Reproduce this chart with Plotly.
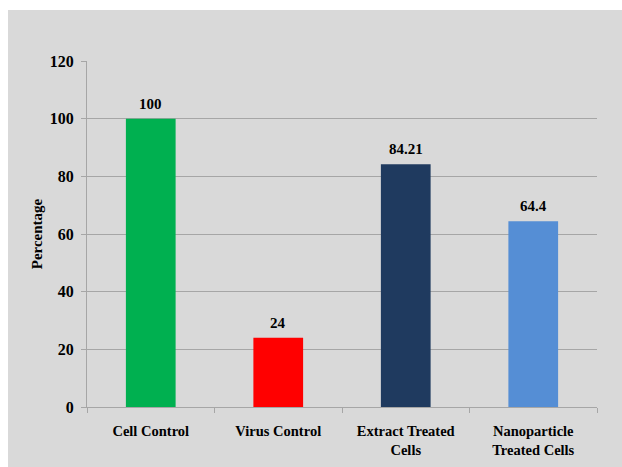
import plotly.graph_objects as go

categories = ["Cell Control", "Virus Control", "Extract Treated<br>Cells", "Nanoparticle<br>Treated Cells"]
values = [100, 24, 84.21, 64.4]
labels = ["100", "24", "84.21", "64.4"]
colors = ["#00b050", "#ff0000", "#1f3a5f", "#558ed5"]
y_ticks = [0, 20, 40, 60, 80, 100, 120]

W, H = 622, 467
L, R, T, B = 87, 25, 61, 60
pw, ph = W - L - R, H - T - B

font_family = "Liberation Serif"

fig = go.Figure(go.Bar(
    x=categories, y=values, marker_color=colors, marker_line_width=0,
    width=0.39,
))

for c, v, t in zip(categories, values, labels):
    fig.add_annotation(x=c, y=v, text="<b>" + t + "</b>", showarrow=False,
                       yanchor="bottom", yshift=5,
                       font=dict(family=font_family, size=15, color="black"))

fig.add_shape(type="rect", xref="paper", yref="paper",
              x0=(8 - L) / pw, x1=(W - L) / pw,
              y0=(ph + T - H) / ph, y1=(ph + T - 10) / ph,
              fillcolor="#d9d9d9", line_width=0, layer="below")

fig.update_layout(
    width=W, height=H,
    margin=dict(l=L, r=R, t=T, b=B, autoexpand=False),
    paper_bgcolor="white", plot_bgcolor="rgba(0,0,0,0)",
    font=dict(family=font_family, color="black"),
    showlegend=False,
)
fig.update_yaxes(
    range=[0, 120], tickvals=y_ticks, showgrid=True, gridcolor="#a6a6a6", gridwidth=1,
    showline=True, linecolor="#a6a6a6", linewidth=1, ticks="outside", ticklen=5, tickcolor="#a6a6a6",
    tickfont=dict(size=16, family=font_family, color="black", weight="bold"), zeroline=False,
    title=dict(text="<b>Percentage</b>", font=dict(size=15, family=font_family), standoff=3),
    ticklabelstandoff=4, automargin=False,
)
fig.update_xaxes(
    showline=True, linecolor="#a6a6a6", linewidth=1, ticks="outside", ticklen=5, tickcolor="#a6a6a6",
    tickson="boundaries", tickfont=dict(size=14.5, family=font_family, color="black", weight="bold"),
    ticklabelstandoff=11, automargin=False,
)

fig.write_html("out.html")
